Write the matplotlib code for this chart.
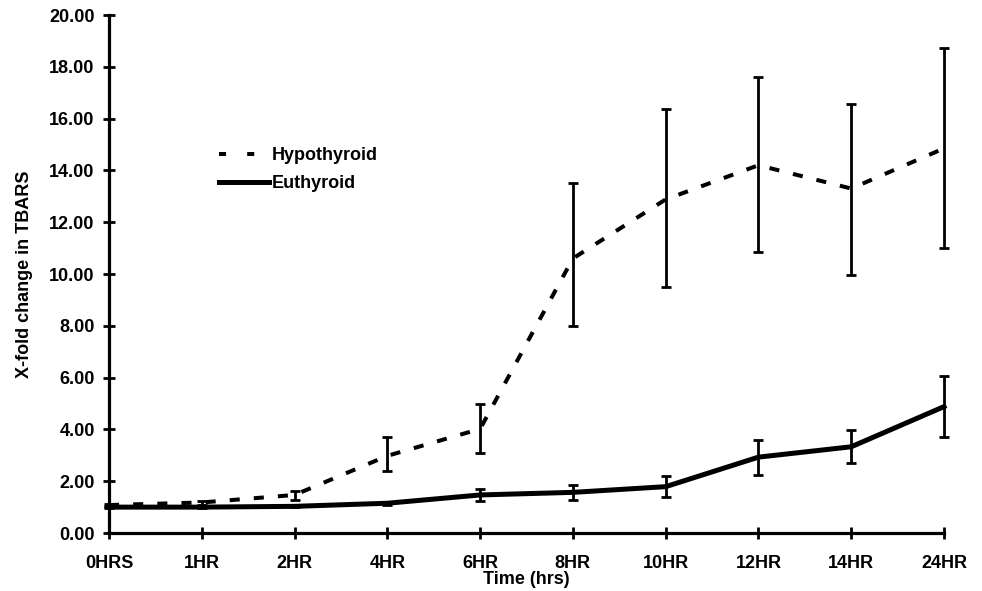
import matplotlib
matplotlib.use('Agg')
import matplotlib.pyplot as plt
from matplotlib.lines import Line2D
import numpy as np

plt.rcParams['font.family'] = ['Liberation Sans', 'DejaVu Sans']
plt.rcParams['font.weight'] = 'bold'

# time points
times = ['0HRS', '1HR', '2HR', '4HR', '6HR', '8HR', '10HR', '12HR', '14HR', '24HR']

# hypothyroid mean and error bar limits
hypo_mean = [1.08, 1.18, 1.47, 2.98, 4.02, 10.6, 12.88, 14.2, 13.3, 14.85]
hypo_low = [1.02, 1.10, 1.27, 2.40, 3.08, 7.99, 9.50, 10.85, 9.96, 11.0]
hypo_high = [1.12, 1.25, 1.62, 3.70, 4.98, 13.5, 16.37, 17.6, 16.56, 18.72]

# euthyroid mean and error bar limits
eu_mean = [1.0, 1.0, 1.03, 1.15, 1.47, 1.57, 1.79, 2.93, 3.33, 4.88]
eu_low = [0.97, 0.97, 1.0, 1.10, 1.25, 1.28, 1.40, 2.24, 2.70, 3.70]
eu_high = [1.03, 1.03, 1.06, 1.20, 1.70, 1.85, 2.20, 3.60, 3.98, 6.06]

x = np.arange(len(times))
fs = 13

fig = plt.figure(figsize=(9.82, 5.91), dpi=100)
ax = fig.add_axes([0.1110, 0.0981, 0.8503, 0.8765])

hypo_err = [np.array(hypo_mean) - np.array(hypo_low), np.array(hypo_high) - np.array(hypo_mean)]
eu_err = [np.array(eu_mean) - np.array(eu_low), np.array(eu_high) - np.array(eu_mean)]

# error bars
for mean, err in [(hypo_mean, hypo_err), (eu_mean, eu_err)]:
    eb = ax.errorbar(x, mean, yerr=err, fmt='none', ecolor='black',
                     elinewidth=2.0, capsize=3.8, capthick=2.0)
    for art in eb.lines[1] + eb.lines[2]:
        art.set_clip_on(False)

ax.plot(x, hypo_mean, color='black', lw=2.9, dashes=(2.5, 3.5), clip_on=False)
ax.plot(x, eu_mean, color='black', lw=3.6, clip_on=False)

ax.set_xlim(0, len(times) - 1)
ax.set_ylim(0, 20)
ax.set_yticks(np.arange(0, 21, 2))
ax.set_yticklabels(['%.2f' % v for v in np.arange(0, 21, 2)], fontsize=fs, fontweight='bold')
ax.set_xticks(x)
ax.set_xticklabels(times, fontsize=fs, fontweight='bold')

ax.spines['top'].set_visible(False)
ax.spines['right'].set_visible(False)
ax.spines['left'].set_linewidth(2.3)
ax.spines['bottom'].set_linewidth(2.3)
ax.tick_params(axis='both', direction='inout', length=8.6, width=2.0)
ax.tick_params(axis='x', pad=11.5)
ax.tick_params(axis='y', pad=6)

ax.set_xlabel('Time (hrs)', fontsize=fs, fontweight='bold', labelpad=-1)
ax.set_ylabel('X-fold change in TBARS', fontsize=fs, fontweight='bold', labelpad=12)

# legend
handles = [Line2D([], [], color='black', lw=2.9, dashes=(1.75, 5.25)),
           Line2D([], [], color='black', lw=3.6)]
leg = ax.legend(handles, ['Hypothyroid', 'Euthyroid'], loc='upper left',
                bbox_to_anchor=(0.2067, 0.778), bbox_transform=fig.transFigure,
                frameon=False, fontsize=fs, handlelength=2.77, handletextpad=0.15,
                labelspacing=0.61)
for t in leg.get_texts():
    t.set_fontweight('bold')

plt.savefig('out.png', dpi=100)
